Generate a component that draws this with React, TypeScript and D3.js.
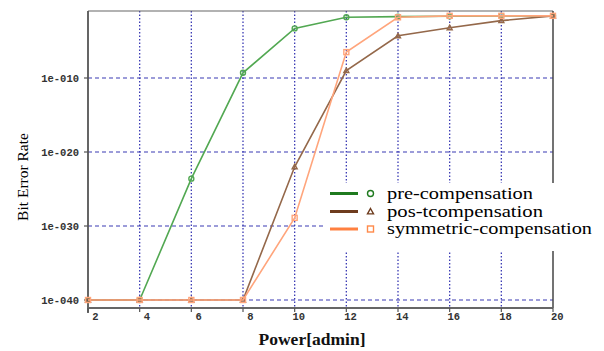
import React from "react";
import * as d3 from "d3";

// Transmit power settings (x axis)
const powers = [2, 4, 6, 8, 10, 12, 14, 16, 18, 20];

// Bit error rate per scheme, stored as log10 exponents
const preExp = [-40, -40, -23.6, -9.3, -3.3, -1.8, -1.7, -1.65, -1.6, -1.6];
const postExp = [-40, -40, -40, -40, -22, -9.0, -4.3, -3.2, -2.25, -1.6];
const symExp = [-40, -40, -40, -40, -28.9, -6.5, -1.8, -1.6, -1.6, -1.6];

const xTicks = [2, 4, 6, 8, 10, 12, 14, 16, 18, 20];
const yTickExps = [-10, -20, -30, -40];

const seriesNames = ["pre-compensation", "pos-tcompensation", "symmetric-compensation"];

const W = 604;
const H = 351;
const left = 88;
const right = 553;
const top = 11;
const bottom = 308;

const x = d3.scaleLinear().domain([2, 20]).range([left, right]);
const y = d3
  .scaleLog()
  .domain([Math.pow(10, -41.08), Math.pow(10, -0.946)])
  .range([bottom, top]);

const fmtExp = (e: number) => "1e-" + String(Math.abs(e)).padStart(3, "0");

type Series = {
  name: string;
  exps: number[];
  line: string;
  legendLine: string;
  marker: "circle" | "triangle" | "square";
};

const series: Series[] = [
  { name: seriesNames[0], exps: preExp, line: "#52a852", legendLine: "#1f7a1f", marker: "circle" },
  { name: seriesNames[1], exps: postExp, line: "#94684a", legendLine: "#6e3c1e", marker: "triangle" },
  { name: seriesNames[2], exps: symExp, line: "#ffa57c", legendLine: "#ff8040", marker: "square" },
];

function Marker({ kind, cx, cy, color, size }: { kind: string; cx: number; cy: number; color: string; size: number }) {
  const r = size / 2;
  if (kind === "circle") {
    return <circle cx={cx} cy={cy} r={r} fill="none" stroke={color} strokeWidth={1.4} />;
  }
  if (kind === "triangle") {
    const pts = [
      [cx, cy - r],
      [cx + r, cy + r * 0.8],
      [cx - r, cy + r * 0.8],
    ]
      .map((p) => p.join(","))
      .join(" ");
    return <polygon points={pts} fill="none" stroke={color} strokeWidth={1.4} />;
  }
  return <rect x={cx - r} y={cy - r} width={size} height={size} fill="none" stroke={color} strokeWidth={1.4} />;
}

export default function App() {
  const line = d3
    .line<[number, number]>()
    .x((d) => x(d[0]))
    .y((d) => y(Math.pow(10, d[1])));

  const gridColor = "#3a3ab4";
  const legendRows = [193.5, 211.5, 229];
  const legendWidths = [146, 156, 205];

  return (
    <svg
      width={W}
      height={H}
      style={{ position: "fixed", left: 0, top: 0, background: "#fff" }}
      xmlns="http://www.w3.org/2000/svg"
    >
      <rect x={0} y={0} width={W} height={H} fill="#fff" />

      {/* vertical dotted grid */}
      {xTicks
        .filter((t) => t !== 2 && t !== 20)
        .map((t) => (
          <line
            key={"vg" + t}
            x1={x(t)}
            x2={x(t)}
            y1={top}
            y2={bottom}
            stroke={gridColor}
            strokeWidth={1.3}
            strokeDasharray="1.5 2"
          />
        ))}

      {/* horizontal dashed grid */}
      {yTickExps.map((e) => (
        <line
          key={"hg" + e}
          x1={left}
          x2={right}
          y1={y(Math.pow(10, e))}
          y2={y(Math.pow(10, e))}
          stroke={gridColor}
          strokeWidth={1.2}
          strokeDasharray="4 3"
        />
      ))}

      {/* frame */}
      <line x1={left} x2={right} y1={top} y2={top} stroke="#666" strokeWidth={1.2} />
      <line x1={right} x2={right} y1={top} y2={bottom} stroke="#444" strokeWidth={1.5} />
      <line x1={left} x2={left} y1={top} y2={bottom + 5} stroke="#555" strokeWidth={1.8} />
      <line x1={left} x2={right} y1={bottom} y2={bottom} stroke="#666" strokeWidth={2} />

      {/* y ticks and labels */}
      {yTickExps.map((e) => {
        const yy = y(Math.pow(10, e));
        return (
          <g key={"yt" + e}>
            <line x1={left - 4} x2={left} y1={yy} y2={yy} stroke="#555" strokeWidth={1.2} />
            <text
              x={79}
              y={yy + 3.5}
              textAnchor="end"
              fontFamily="Liberation Mono, DejaVu Sans Mono, monospace"
              fontSize={10.5}
              fontWeight="bold"
              fill="#333"
            >
              {fmtExp(e)}
            </text>
          </g>
        );
      })}

      {/* x ticks and labels */}
      {xTicks.map((t) => (
        <g key={"xt" + t}>
          <line x1={x(t)} x2={x(t)} y1={bottom} y2={bottom + 4} stroke="#555" strokeWidth={1.2} />
          <text
            x={x(t) + 10.5}
            y={320}
            textAnchor="end"
            fontFamily="Liberation Mono, DejaVu Sans Mono, monospace"
            fontSize={10.5}
            fontWeight="bold"
            fill="#333"
          >
            {t}
          </text>
        </g>
      ))}

      {/* series */}
      {series.map((s) => {
        const pts: [number, number][] = powers.map((p, i) => [p, s.exps[i]]);
        return (
          <g key={s.name}>
            <path d={line(pts) || ""} fill="none" stroke={s.line} strokeWidth={1.6} />
            {pts.map((p, i) => (
              <Marker key={i} kind={s.marker} cx={x(p[0])} cy={y(Math.pow(10, p[1]))} color={s.line} size={5} />
            ))}
          </g>
        );
      })}

      {/* legend */}
      <rect x={324} y={183} width={276} height={68} fill="#fff" />
      {series.map((s, i) => {
        const ly = legendRows[i];
        return (
          <g key={"lg" + s.name}>
            <line x1={330} x2={358} y1={ly} y2={ly} stroke={s.legendLine} strokeWidth={3} />
            <Marker kind={s.marker} cx={370.5} cy={ly} color={s.legendLine === "#ff8040" ? "#ff8a4a" : s.legendLine} size={6} />
            <text
              x={387}
              y={ly + 5}
              fontFamily="Liberation Serif, Times New Roman, serif"
              fontSize={17}
              fill="#000"
              textLength={legendWidths[i]}
              lengthAdjust="spacingAndGlyphs"
            >
              {s.name}
            </text>
          </g>
        );
      })}

      {/* axis titles */}
      <text
        transform="translate(28,177) rotate(-90)"
        textAnchor="middle"
        fontFamily="Liberation Serif, Times New Roman, serif"
        fontSize={15.5}
        fill="#000"
      >
        Bit Error Rate
      </text>
      <text
        x={312}
        y={345}
        textAnchor="middle"
        fontFamily="Liberation Serif, Times New Roman, serif"
        fontSize={17.5}
        fontWeight="bold"
        fill="#111"
      >
        Power[admin]
      </text>
    </svg>
  );
}
